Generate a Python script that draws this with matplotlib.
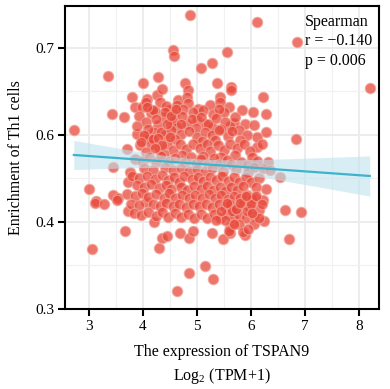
import numpy as np
import matplotlib
matplotlib.use("Agg")
import matplotlib.pyplot as plt
from matplotlib.ticker import MultipleLocator

plt.rcParams['font.family'] = ['Liberation Serif', 'DejaVu Serif']
plt.rcParams['mathtext.fontset'] = 'custom'
plt.rcParams['mathtext.rm'] = 'Liberation Serif'

# x: TSPAN9 expression, y: Th1 enrichment
tspan9 = [
    # sparse points around the cloud
    4.87, 6.11, 6.85, 8.20, 6.22, 3.35, 4.00, 3.80, 4.07, 4.28, 4.26, 4.56, 4.57, 5.56,
    5.28, 5.07, 4.35, 4.78, 4.83, 5.37, 5.63, 5.63, 5.43, 4.65, 4.81, 2.72, 3.43, 3.65,
    3.89, 4.07, 3.70, 3.44, 3.00, 3.13, 3.44, 3.54, 3.72, 3.76, 3.85, 3.98, 4.15, 4.06,
    6.04, 6.28, 6.28, 6.83, 6.11, 6.31, 6.22, 6.35, 6.54, 6.28, 6.07, 6.22, 6.63, 6.93,
    6.70, 6.24, 6.15, 3.11, 3.28, 3.72, 3.67, 3.06, 4.06, 4.20, 4.30, 3.52, 4.63, 4.85,
    5.15, 5.30, 4.35, 4.44, 4.69, 4.85, 4.93, 5.28, 5.48, 5.61, 5.89, 5.61,
    # dense cloud
    4.31, 4.63, 4.83, 5.24, 5.43, 5.83, 4.48, 5.02, 5.60, 4.22,
    4.42, 4.58, 4.75, 4.92, 5.12, 5.30, 5.50, 5.68, 4.82, 5.14, 5.28, 4.52, 5.00, 5.40,
    5.62,
    4.38, 4.55, 4.72, 4.90, 5.08, 5.20, 5.35, 5.52, 5.70, 5.88, 4.28, 4.63, 4.98, 5.45,
    5.78, 6.05,
    4.20, 4.40, 4.52, 4.70, 4.85, 5.00, 5.15, 5.28, 5.40, 5.58, 5.65, 5.93, 6.12, 4.12,
    4.60, 5.10, 5.34, 5.80,
    3.95, 4.15, 4.30, 4.45, 4.55, 4.68, 4.80, 4.93, 5.05, 5.18, 5.25, 5.38, 5.50, 5.62,
    5.75, 5.87, 5.98, 6.20, 4.05, 4.38, 4.72, 5.12, 5.45, 5.70, 6.02,
    3.85, 3.98, 4.12, 4.25, 4.33, 4.48, 4.60, 4.78, 4.88, 4.98, 5.08, 5.20, 5.32, 5.40,
    5.55, 5.63, 5.82, 5.92, 6.12, 4.02, 4.18, 4.40, 4.55, 4.70, 4.85, 5.00, 5.15, 5.28,
    5.48, 5.72, 5.95, 6.05,
    3.80, 3.93, 4.08, 4.22, 4.35, 4.46, 4.58, 4.66, 4.76, 4.90, 5.02, 5.12, 5.24, 5.35,
    5.46, 5.58, 5.68, 5.78, 5.90, 6.00, 6.15, 3.88, 4.02, 4.15, 4.30, 4.42, 4.52, 4.70,
    4.82, 4.95, 5.08, 5.18, 5.30, 5.42, 5.52, 5.63, 5.75, 5.85, 6.10,
    3.70, 3.85, 3.98, 4.10, 4.25, 4.38, 4.48, 4.60, 4.73, 4.86, 4.97, 5.10, 5.22, 5.34,
    5.45, 5.57, 5.68, 5.80, 5.92, 6.02, 3.78, 3.92, 4.18, 4.31, 4.43, 4.55, 4.66, 4.80,
    4.92, 5.03, 5.16, 5.28, 5.40, 5.51, 5.62, 5.74, 5.86, 5.98,
    3.84, 3.97, 4.10, 4.24, 4.36, 4.47, 4.60, 4.70, 4.84, 4.95, 5.07, 5.19, 5.31, 5.43,
    5.55, 5.66, 5.78, 5.90, 6.05,
    # upper-left part of the cloud
    3.92, 4.05, 4.18, 4.10, 4.25, 4.33, 4.02, 4.45, 3.96, 4.18, 4.40, 4.52, 4.08, 4.28,
    4.62, 3.88, 4.36, 4.50, 4.22, 4.70,
    # lower-right part of the cloud
    5.52, 5.65, 5.78, 5.92, 6.05, 5.60, 5.85, 6.00, 6.15, 5.45, 5.95, 5.72, 6.10, 5.35,
    5.80, 6.20, 5.55, 5.68, 6.02, 5.90,
]
th1 = [
    0.738, 0.730, 0.707, 0.654, 0.644, 0.668, 0.659, 0.644, 0.641, 0.666, 0.646, 0.697, 0.690, 0.695,
    0.683, 0.677, 0.653, 0.660, 0.652, 0.659, 0.655, 0.651, 0.643, 0.640, 0.643, 0.605, 0.624, 0.621,
    0.601, 0.599, 0.584, 0.563, 0.538, 0.524, 0.531, 0.528, 0.546, 0.557, 0.632, 0.632, 0.625, 0.638,
    0.626, 0.624, 0.603, 0.595, 0.586, 0.569, 0.562, 0.560, 0.551, 0.538, 0.528, 0.525, 0.514, 0.511,
    0.480, 0.501, 0.514, 0.522, 0.520, 0.513, 0.489, 0.469, 0.523, 0.500, 0.470, 0.525, 0.421, 0.441,
    0.449, 0.434, 0.482, 0.484, 0.487, 0.482, 0.489, 0.487, 0.480, 0.494, 0.485, 0.487,
    0.638, 0.634, 0.637, 0.634, 0.638, 0.629, 0.628, 0.630, 0.632, 0.627,
    0.633, 0.624, 0.630, 0.626, 0.628, 0.624, 0.626, 0.614, 0.612, 0.612, 0.609, 0.612, 0.617, 0.630,
    0.610,
    0.620, 0.616, 0.622, 0.618, 0.621, 0.613, 0.619, 0.615, 0.621, 0.612, 0.611, 0.609, 0.608, 0.607,
    0.606, 0.611,
    0.603, 0.600, 0.605, 0.601, 0.604, 0.598, 0.603, 0.600, 0.605, 0.599, 0.604, 0.600, 0.597, 0.596,
    0.595, 0.593, 0.594, 0.594,
    0.588, 0.590, 0.585, 0.590, 0.583, 0.589, 0.584, 0.590, 0.585, 0.589, 0.582, 0.588, 0.583, 0.590,
    0.585, 0.589, 0.582, 0.590, 0.580, 0.578, 0.577, 0.576, 0.575, 0.577, 0.574,
    0.572, 0.570, 0.574, 0.569, 0.576, 0.570, 0.573, 0.569, 0.575, 0.568, 0.572, 0.567, 0.573, 0.566,
    0.571, 0.566, 0.569, 0.565, 0.570, 0.562, 0.560, 0.563, 0.560, 0.562, 0.559, 0.561, 0.558, 0.562,
    0.559, 0.561, 0.557, 0.563,
    0.553, 0.550, 0.553, 0.549, 0.554, 0.548, 0.552, 0.546, 0.553, 0.549, 0.552, 0.547, 0.552, 0.548,
    0.553, 0.547, 0.552, 0.546, 0.551, 0.546, 0.550, 0.542, 0.540, 0.543, 0.539, 0.542, 0.538, 0.540,
    0.537, 0.541, 0.538, 0.541, 0.537, 0.540, 0.536, 0.540, 0.537, 0.541, 0.540,
    0.532, 0.530, 0.533, 0.529, 0.532, 0.528, 0.533, 0.528, 0.531, 0.527, 0.531, 0.527, 0.532, 0.528,
    0.531, 0.526, 0.530, 0.527, 0.531, 0.526, 0.521, 0.519, 0.521, 0.518, 0.522, 0.518, 0.521, 0.517,
    0.521, 0.518, 0.521, 0.517, 0.521, 0.517, 0.520, 0.516, 0.520, 0.516,
    0.510, 0.508, 0.511, 0.507, 0.511, 0.506, 0.510, 0.506, 0.509, 0.505, 0.509, 0.505, 0.509, 0.505,
    0.509, 0.505, 0.508, 0.504, 0.507,
    0.622, 0.615, 0.628, 0.607, 0.618, 0.603, 0.600, 0.612, 0.592, 0.595, 0.626, 0.622, 0.632, 0.596,
    0.630, 0.610, 0.588, 0.598, 0.585, 0.612,
    0.502, 0.512, 0.498, 0.512, 0.498, 0.490, 0.488, 0.520, 0.505, 0.512, 0.492, 0.515, 0.530, 0.502,
    0.522, 0.520, 0.522, 0.498, 0.510, 0.530,
]

# tick labels as printed in the original figure (0.5 is absent there)
y_ticks = [0.4, 0.5, 0.6, 0.7]
y_tick_labels = ['0.3', '0.4', '0.6', '0.7']
x_ticks = [3, 4, 5, 6, 7, 8]

stats_text = 'Spearman\nr = \u22120.140\np = 0.006'

x = np.array(tspan9)
y = np.array(th1)

# linear fit with 95% confidence band, like geom_smooth(method = "lm")
slope, intercept = np.polyfit(x, y, 1)
n = len(x)
resid = y - (slope * x + intercept)
s = np.sqrt(np.sum(resid ** 2) / (n - 2))
xs = np.linspace(x.min(), x.max(), 100)
fit = slope * xs + intercept
se = s * np.sqrt(1 / n + (xs - x.mean()) ** 2 / np.sum((x - x.mean()) ** 2))
lo = fit - 1.97 * se
hi = fit + 1.97 * se

fig = plt.figure(figsize=(3.9, 3.89), dpi=100)
ax = fig.add_axes([0.1667, 0.2057, 0.805, 0.779])

ax.scatter(x, y, s=55, facecolor='#E8473A', edgecolor='#F2A093', linewidth=0.9,
           alpha=0.75, zorder=3)
ax.fill_between(xs, lo, hi, color='#BFE2EE', alpha=0.6, linewidth=0, zorder=4)
ax.plot(xs, fit, color='#3DB3CC', linewidth=1.6, zorder=5)

ax.set_xlim(2.556, 8.37)
ax.set_ylim(0.4, 0.748)
ax.set_xticks(x_ticks)
ax.set_yticks(y_ticks)
ax.set_yticklabels(y_tick_labels)
ax.xaxis.set_minor_locator(MultipleLocator(0.5))
ax.yaxis.set_minor_locator(MultipleLocator(0.05))

ax.grid(which='major', color='#EBEBEB', linewidth=1.3, zorder=0)
ax.grid(which='minor', color='#F1F1F1', linewidth=0.9, zorder=0)
ax.set_axisbelow(True)

for sp in ax.spines.values():
    sp.set_linewidth(1.5)
    sp.set_color('black')
ax.tick_params(which='major', direction='out', length=5, width=1.5, labelsize=11,
               color='black', pad=3)
ax.tick_params(which='minor', length=0)

ax.set_xlabel('The expression of TSPAN9\nLog$_2$ (TPM+1)', fontsize=11.5, labelpad=8,
              linespacing=1.4)
ax.set_ylabel('Enrichment of Th1 cells', fontsize=11.5, labelpad=8)

ax.text(0.764, 0.975, stats_text, transform=ax.transAxes, ha='left', va='top',
        fontsize=11.5, linespacing=1.3)

fig.savefig('out.png', dpi=100)
